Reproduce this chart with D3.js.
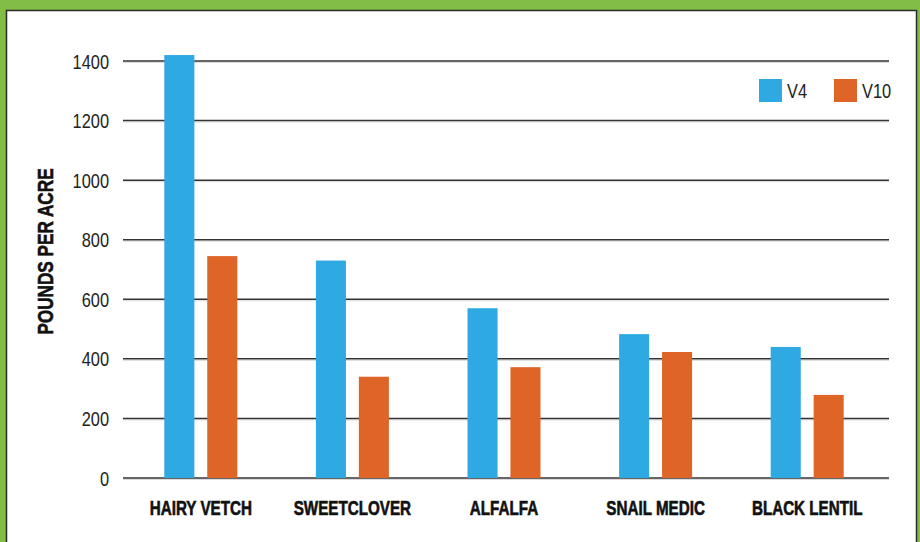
<!DOCTYPE html>
<html>
<head>
<meta charset="utf-8">
<script src="https://cdn.jsdelivr.net/npm/d3@7"></script>
<style>
  html, body { margin: 0; padding: 0; background: #82bd46; }
  svg { display: block; }
</style>
</head>
<body>
<svg id="chart"></svg>
<script>
const width = 920
const height = 542

const crops = ['HAIRY VETCH', 'SWEETCLOVER', 'ALFALFA', 'SNAIL MEDIC', 'BLACK LENTIL']
const series = ['V4', 'V10']
const v4 = [1420, 730, 570, 483, 440]
const v10 = [745, 340, 372, 423, 279]
const yTicks = [0, 200, 400, 600, 800, 1000, 1200, 1400]

const colors = { V4: '#2ea9e1', V10: '#de6427' }
// no condensed face installed, so squeeze Liberation Sans horizontally
const font = '"Liberation Sans", Arial, sans-serif'
const squeeze = 0.78

const rows = crops.map((c, i) => ({ crop: c, V4: v4[i], V10: v10[i] }))

const svg = d3.select('#chart').attr('width', width).attr('height', height)

// white panel on green backing
svg.append('rect')
  .attr('x', 6.5).attr('y', 10.5)
  .attr('width', 910).attr('height', 540)
  .attr('fill', '#fff')
  .attr('stroke', '#2b2b2b')
  .attr('stroke-width', 1.5)

const x = d3.scaleBand().domain(crops).range([125, 883])
const xs = d3.scaleBand().domain(series).range([0, 73]).paddingInner(0.3)
const y = d3.scaleLinear().domain([0, 1400]).range([478, 61])

// gridlines
const grid = svg.append('g')
grid.selectAll('line.shadow')
  .data(yTicks)
  .enter().append('line')
  .attr('class', 'shadow')
  .attr('x1', 123).attr('x2', 889)
  .attr('y1', d => y(d) + 1.5).attr('y2', d => y(d) + 1.5)
  .attr('stroke', '#dadada').attr('stroke-width', 1)
grid.selectAll('line.main')
  .data(yTicks)
  .enter().append('line')
  .attr('class', 'main')
  .attr('x1', 123).attr('x2', 889)
  .attr('y1', d => y(d)).attr('y2', d => y(d))
  .attr('stroke', '#333').attr('stroke-width', 1.5)

// y tick labels
svg.append('g').selectAll('text')
  .data(yTicks)
  .enter().append('text')
  .attr('transform', d => `translate(109,${y(d)}) scale(${squeeze},1)`)
  .attr('dy', '0.36em')
  .attr('text-anchor', 'end')
  .style('font-family', font)
  .style('font-size', '21px')
  .attr('fill', '#222')
  .text(d => d)

// bars
const groups = svg.append('g').selectAll('g')
  .data(rows)
  .enter().append('g')
  .attr('transform', d => `translate(${x(d.crop) + (x.bandwidth() - 73) / 2},0)`)

groups.selectAll('rect')
  .data(d => series.map(s => ({ key: s, value: d[s] })))
  .enter().append('rect')
  .attr('x', d => xs(d.key))
  .attr('width', xs.bandwidth())
  .attr('y', d => y(d.value))
  .attr('height', d => y(0) - y(d.value))
  .attr('fill', d => colors[d.key])

// category labels (heavy condensed look)
svg.append('g').selectAll('text')
  .data(crops)
  .enter().append('text')
  .attr('transform', d => `translate(${x(d) + x.bandwidth() / 2},515) scale(${squeeze},1)`)
  .attr('text-anchor', 'middle')
  .style('font-family', font)
  .style('font-weight', 'bold')
  .style('font-size', '19.5px')
  .attr('fill', '#111')
  .attr('stroke', '#111')
  .attr('stroke-width', 0.6)
  .text(d => d)

// y axis title
svg.append('text')
  .attr('transform', `translate(53,251.5) rotate(-90) scale(${squeeze},1)`)
  .attr('text-anchor', 'middle')
  .style('font-family', font)
  .style('font-weight', 'bold')
  .style('font-size', '22px')
  .attr('fill', '#111')
  .attr('stroke', '#111')
  .attr('stroke-width', 0.6)
  .text('POUNDS PER ACRE')

// legend
const legend = svg.append('g').selectAll('g')
  .data(series)
  .enter().append('g')
  .attr('transform', (d, i) => `translate(${759 + i * 75},79)`)
legend.append('rect')
  .attr('width', 23).attr('height', 23)
  .attr('fill', d => colors[d])
legend.append('text')
  .attr('transform', `translate(28,11.5) scale(${squeeze},1)`)
  .attr('dy', '0.36em')
  .style('font-family', font)
  .style('font-size', '21px')
  .attr('fill', '#222')
  .text(d => d)
</script>
</body>
</html>
